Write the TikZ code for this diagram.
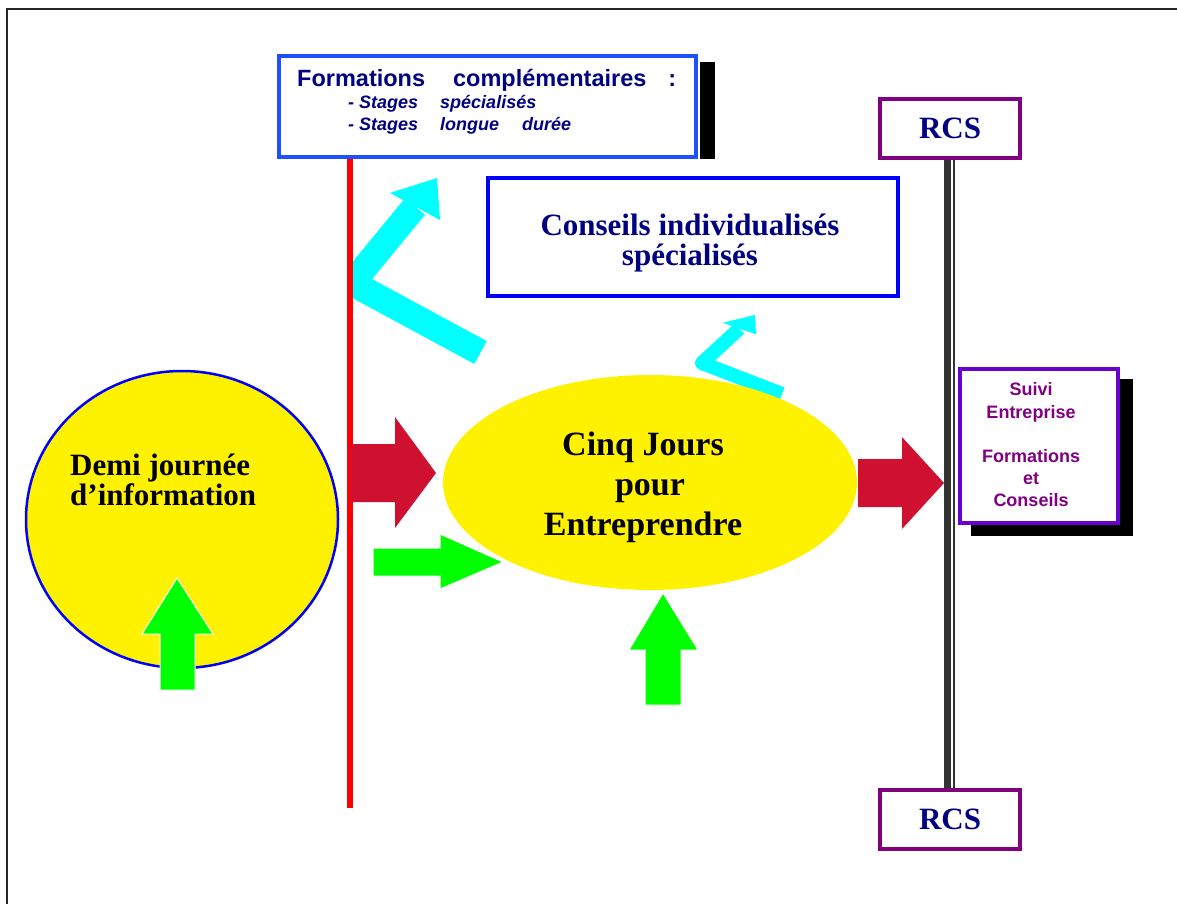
\documentclass[tikz,border=0pt]{standalone}
\usepackage{fontspec}
\setmainfont{Liberation Serif}
\setsansfont{Liberation Sans}
\usetikzlibrary{shapes.geometric}
\definecolor{navy}{HTML}{000080}
\definecolor{boxblue}{HTML}{1E50FF}
\definecolor{rcspurple}{HTML}{800080}
\definecolor{suiviviolet}{HTML}{6A00CC}
\definecolor{arrowred}{HTML}{D01030}
\definecolor{arrowgreen}{HTML}{00FF00}
\definecolor{arrowcyan}{HTML}{00FFFF}
\definecolor{railgray}{HTML}{333333}

\begin{document}
\begin{tikzpicture}[x=1pt, y=-1pt,
  framebox/.style={rectangle, draw=#1, line width=4pt, fill=white, inner sep=0pt},
  shadowbox/.style={fill=black},
  blob/.style={ellipse, fill=yellow, inner sep=0pt},
  rcsbox/.style={framebox=rcspurple, minimum width=140pt, minimum height=59pt,
    text=navy, font=\bfseries\fontsize{31}{31}\selectfont},
  formhead/.style={inner sep=0pt, text=navy, font=\sffamily\bfseries\fontsize{23.5}{26}\selectfont},
  formitem/.style={inner sep=0pt, text=navy, font=\sffamily\bfseries\itshape\fontsize{18}{22}\selectfont},
  suivitext/.style={inner sep=0pt, align=center, text=rcspurple, font=\sffamily\bfseries\fontsize{18}{22.2}\selectfont},
  redarrow/.style={fill=arrowred},
  greenarrow/.style={fill=arrowgreen, draw=white, line width=1pt},
  cyanshaft/.style={draw=arrowcyan, line join=round},
  cyanhead/.style={fill=arrowcyan}]
\useasboundingbox (0,0) rectangle (1177,904);

% outer frame
\draw[line width=2pt, black!85] (7,904) -- (7,9) -- (1177,9);

% cyan bent arrows (under the red line and the ellipse)
\begin{scope}
\clip (350,0) rectangle (1177,904);
\draw[cyanshaft, line width=26pt] (480.5,352.5) -- (352,283) -- (415,206.5);
\fill[cyanhead] (390,193) -- (437,178) -- (440,220) -- cycle;
\draw[cyanshaft, line width=14pt] (782,394) -- (702,363) -- (739.4,328.5);
\fill[cyanhead] (722.7,322.7) -- (755,315) -- (756,334.3) -- cycle;
\end{scope}

% formations
\node[framebox=boxblue, minimum width=417pt, minimum height=101pt] (form) at (487.5,106.5) {};
\fill[shadowbox] ([shift={(2,8)}]form.north east) rectangle ([shift={(17,0)}]form.south east);
\node[formhead, anchor=base west] (formtitle) at (297,87)
  {Formations\hspace{28pt}complémentaires\hspace{22pt}:};
\node[formitem, anchor=base west] (formstage) at (348,109)
  {- Stages\hspace{22pt}spécialisés};
\node[formitem, anchor=base west] (formlong) at (348,131)
  {- Stages\hspace{22pt}longue\hspace{23pt}durée};

% red line
\coordinate (redbot) at (350,808);
\draw[red, line width=6pt] (form.south west -| redbot) -- (redbot);

% conseils
\node[framebox=blue, minimum width=410pt, minimum height=118pt] (cons) at (693,237) {};
\node[align=center, inner sep=0pt, text=navy, font=\bfseries\fontsize{31}{30}\selectfont]
  (constext) at (690,243) {Conseils individualisés\\spécialisés};

% RCS rail
\node[rcsbox] (rcstop) at (950,128.5) {RCS};
\node[rcsbox] (rcsbot) at (950,819) {RCS};
\draw[railgray, line width=7pt] ([xshift=-2.5pt]rcstop.south) -- ([xshift=-2.5pt]rcsbot.north);
\draw[railgray, line width=2pt] ([xshift=4pt]rcstop.south) -- ([xshift=4pt]rcsbot.north);
\node[rcsbox] at (rcstop) {RCS};
\node[rcsbox] at (rcsbot) {RCS};

% suivi
\fill[shadowbox] (971,379) rectangle (1133,536);
\node[framebox=suiviviolet, minimum width=158pt, minimum height=154pt] (suivi) at (1039,446) {};
\node[suivitext] (suivitxt) at (1031,445)
  {Suivi\\Entreprise\\[22.2pt]Formations\\et\\Conseils};

% ellipses
\node[blob, draw=blue, line width=2.5pt, minimum width=312pt, minimum height=297pt] (demi) at (182,519.5) {};
\node[align=left, anchor=west, inner sep=0pt, font=\bfseries\fontsize{31}{30}\selectfont]
  (demitext) at (70,480) {Demi journée\\d’information};
\node[blob, minimum width=414pt, minimum height=215pt] (cinq) at (650,482.5) {};
\node[align=center, inner sep=0pt, font=\bfseries\fontsize{34}{40}\selectfont]
  (cinqtext) at (643,487) {Cinq Jours\\\hspace{14pt}pour\\Entreprendre};

% block arrows
\fill[redarrow] (350,444) -- (395,444) -- (395,417) -- (436,473) -- (395,528) -- (395,502) -- (350,502) -- cycle;
\fill[redarrow] (858,459) -- (902,459) -- (902,437) -- (944,483) -- (902,529) -- (902,507) -- (858,507) -- cycle;
\draw[greenarrow] (373,548) -- (440,548) -- (440,534) -- (503,562) -- (440,589) -- (440,576) -- (373,576) -- cycle;
\draw[greenarrow] (160,690) -- (160,634) -- (142,634) -- (177,578) -- (213,634) -- (195,634) -- (195,690) -- cycle;
\draw[greenarrow] (645,705) -- (645,650) -- (629,650) -- (663,593) -- (698,650) -- (681,650) -- (681,705) -- cycle;

\end{tikzpicture}
\end{document}
